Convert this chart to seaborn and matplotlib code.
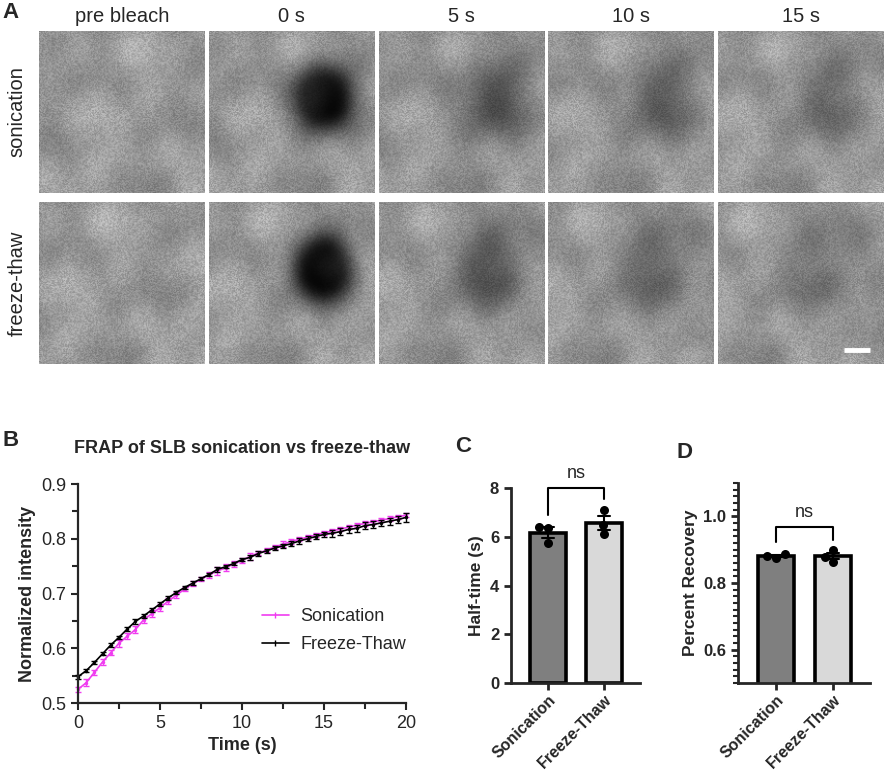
import numpy as np
import pandas as pd
import seaborn as sns
import matplotlib.pyplot as plt
from matplotlib.lines import Line2D

# ---- panel A: FRAP image series ----
time_labels = ["pre bleach", "0 s", "5 s", "10 s", "15 s"]
row_labels = ["sonication", "freeze-thaw"]
spot_depth = [0.0, 0.52, 0.26, 0.20, 0.15]
spot_radius = [0.2, 0.19, 0.20, 0.21, 0.22]
spot_sharpness = [3, 5, 3, 3, 3]

# ---- panel B: recovery curves ----
time_s = np.linspace(0, 20, 41)
sonication_mean = [0.525, 0.537, 0.556, 0.575, 0.592, 0.609, 0.622, 0.634, 0.652, 0.663,
                   0.674, 0.686, 0.697, 0.708, 0.718, 0.726, 0.734, 0.741, 0.747, 0.754,
                   0.760, 0.768, 0.774, 0.779, 0.785, 0.790, 0.795, 0.799, 0.803, 0.807,
                   0.811, 0.814, 0.818, 0.821, 0.825, 0.828, 0.831, 0.834, 0.837, 0.840, 0.843]
sonication_sem = [0.005, 0.006, 0.005, 0.005, 0.005, 0.006, 0.006, 0.007, 0.005, 0.006,
                  0.006, 0.005, 0.005, 0.004, 0.004, 0.004, 0.006, 0.007, 0.006, 0.005,
                  0.005, 0.006, 0.004, 0.004, 0.004, 0.005, 0.004, 0.004, 0.004, 0.004,
                  0.004, 0.004, 0.004, 0.004, 0.004, 0.004, 0.004, 0.004, 0.004, 0.004, 0.004]
freeze_mean = [0.548, 0.559, 0.574, 0.590, 0.606, 0.620, 0.635, 0.649, 0.659, 0.670,
               0.681, 0.692, 0.702, 0.711, 0.719, 0.727, 0.735, 0.744, 0.749, 0.755,
               0.762, 0.766, 0.773, 0.778, 0.783, 0.787, 0.791, 0.796, 0.800, 0.804,
               0.808, 0.810, 0.813, 0.817, 0.819, 0.824, 0.826, 0.829, 0.832, 0.835, 0.839]
freeze_sem = [0.004, 0.003, 0.003, 0.003, 0.004, 0.003, 0.004, 0.004, 0.003, 0.003,
              0.003, 0.003, 0.003, 0.003, 0.003, 0.003, 0.003, 0.004, 0.003, 0.003,
              0.003, 0.004, 0.004, 0.004, 0.004, 0.004, 0.005, 0.005, 0.005, 0.005,
              0.005, 0.006, 0.006, 0.007, 0.007, 0.007, 0.006, 0.006, 0.006, 0.006, 0.008]

# ---- panels C, D: per-replicate values ----
groups = ["Sonication", "Freeze-Thaw"]
halftime_sonication = [6.41, 6.35, 5.73]
halftime_freeze = [7.08, 6.47, 6.10]
recovery_sonication = [0.875, 0.887, 0.880]
recovery_freeze = [0.899, 0.879, 0.864]

PINK = "#f03cf0"
BAR_COLORS = ["#7f7f7f", "#d9d9d9"]

sns.set_theme(style="ticks")
plt.rcParams["font.family"] = ["Liberation Sans", "DejaVu Sans"]

# fixed soft components for the blotchy background of the micrographs
WAVES = [(1.3, 0.6, 0.7, 0.030), (-0.9, 1.8, 1.9, 0.026), (2.3, -0.7, 4.1, 0.022),
         (0.5, 2.9, 2.5, 0.020), (3.1, 2.2, 0.3, 0.014), (-3.7, 1.6, 5.0, 0.012)]


def tile_image(depth, radius, sharp, shift):
    n = 160
    yy, xx = np.mgrid[0:1:n * 1j, 0:1:n * 1j]
    img = np.full((n, n), 0.60)
    for kx, ky, ph, amp in WAVES:
        img += amp * np.cos(2 * np.pi * (kx * xx + ky * yy) + ph + shift * kx)
    r = np.sqrt(((xx - 0.69) / radius) ** 2 + ((yy - 0.41) / (1.12 * radius)) ** 2)
    img -= depth / (1 + r ** sharp)
    ii, jj = np.mgrid[0:n, 0:n]
    grain = np.sin(ii * 12.9898 + jj * 78.233 + shift) * 43758.5453
    grain = grain - np.floor(grain)
    img *= 1 + 0.28 * (grain - 0.5)
    return np.clip(img, 0, 1)


fig = plt.figure(figsize=(8.86, 7.70), dpi=100)
W, H = 886, 770


def px_axes(left, top, width, height):
    return fig.add_axes([left / W, 1 - (top + height) / H, width / W, height / H])


# panel A
tile_w, tile_h, gap = 166, 162, 3.75
row_tops = [31, 202]
for r, rlab in enumerate(row_labels):
    for c, tlab in enumerate(time_labels):
        left = 39 + c * (tile_w + gap)
        ax = px_axes(left, row_tops[r], tile_w, tile_h)
        ax.imshow(tile_image(spot_depth[c], spot_radius[c], spot_sharpness[c],
                             0.37 * c + 1.1 * r),
                  cmap="gray", vmin=0, vmax=1, aspect="auto", interpolation="bilinear")
        ax.set_axis_off()
        if r == 0:
            fig.text((left + tile_w / 2) / W, 1 - 17 / H, tlab, ha="center", va="center",
                     fontsize=14.5)
        if r == 1 and c == len(time_labels) - 1:
            ax.plot([121, 146], [146, 146], color="white", lw=3.5, solid_capstyle="butt")
    fig.text(17 / W, 1 - (row_tops[r] + tile_h / 2) / H, rlab, rotation=90,
             ha="center", va="center", fontsize=14.5)
fig.text(2 / W, 1 - 12 / H, "A", fontsize=16, fontweight="bold", va="center")

# panel B
axb = px_axes(78, 484, 328, 219)
for mean, sem, col in [(sonication_mean, sonication_sem, PINK),
                       (freeze_mean, freeze_sem, "black")]:
    sns.lineplot(x=time_s, y=mean, color=col, lw=1.2, marker="o", markersize=2.5,
                 markeredgewidth=0, ax=axb, clip_on=False)
    axb.errorbar(time_s, mean, yerr=sem, fmt="none", ecolor=col, elinewidth=1.0,
                 capsize=2.2, capthick=1.0, clip_on=False)
axb.set_xlim(0, 20)
axb.set_ylim(0.5, 0.9)
axb.set_xticks([0, 5, 10, 15, 20])
axb.set_xticks(np.linspace(0, 20, 9), minor=True)
axb.set_yticks([0.5, 0.6, 0.7, 0.8, 0.9])
axb.set_yticks(np.linspace(0.5, 0.9, 9), minor=True)
axb.set_yticklabels(["0.5", "0.6", "0.7", "0.8", "0.9"])
axb.tick_params(which="both", direction="out", width=1.5, labelsize=13, length=5)
axb.tick_params(which="minor", length=4)
for s in ["left", "bottom"]:
    axb.spines[s].set_linewidth(1.6)
sns.despine(ax=axb)
axb.set_xlabel("Time (s)", fontsize=13, fontweight="bold")
axb.set_ylabel("Normalized intensity", fontsize=13, fontweight="bold")
axb.set_title("FRAP of SLB sonication vs freeze-thaw", fontsize=13, fontweight="bold", pad=22)
handles = [Line2D([0], [0], color=PINK, lw=1.2, marker="|", markersize=4),
           Line2D([0], [0], color="black", lw=1.2, marker="|", markersize=4)]
axb.legend(handles, ["Sonication", "Freeze-Thaw"], loc="center right",
           bbox_to_anchor=(1.0, 0.33), borderaxespad=0, borderpad=0, frameon=False,
           fontsize=13, handlelength=1.45, handletextpad=0.65, labelspacing=0.62)
fig.text(2 / W, 1 - 440 / H, "B", fontsize=16, fontweight="bold", va="center")


def bar_panel(ax, son, fre, ylim, ylabel, bracket, ns_y):
    df = pd.DataFrame({"group": [groups[0]] * len(son) + [groups[1]] * len(fre),
                       "value": son + fre})
    sns.barplot(data=df, x="group", y="value", hue="group", palette=BAR_COLORS,
                legend=False, errorbar="se", capsize=0.22, width=0.64,
                edgecolor="black", linewidth=2.6,
                err_kws={"color": "black", "linewidth": 1.5}, ax=ax)
    sns.swarmplot(data=df, x="group", y="value", color="black", size=6.5, ax=ax)
    ax.set_xlim(-0.67, 1.65)
    ax.set_ylim(*ylim)
    ax.set_xlabel("")
    ax.set_ylabel(ylabel, fontsize=12.5, fontweight="bold")
    top, left_low, right_low = bracket
    ax.plot([0, 0, 1, 1], [left_low, top, top, right_low], color="black", lw=1.5,
            clip_on=False)
    ax.text(0.5, ns_y, "ns", ha="center", va="center", fontsize=13, clip_on=False)
    for s in ["left", "bottom"]:
        ax.spines[s].set_linewidth(2)
    sns.despine(ax=ax)
    ax.tick_params(which="both", direction="out", width=2, length=5, labelsize=12)
    ax.tick_params(which="minor", width=1.5, length=3.5)
    ax.tick_params(axis="x", pad=1.5)
    for lab in ax.get_yticklabels():
        lab.set_fontweight("bold")
    ax.set_xticks([0, 1])
    ax.set_xticklabels(groups, rotation=45, ha="right", va="top", rotation_mode="anchor",
                       fontweight="bold", fontsize=11.5)


# panel C
axc = px_axes(511, 488, 129, 195)
bar_panel(axc, halftime_sonication, halftime_freeze, (0, 8), "Half-time (s)",
          (8.0, 6.9, 7.55), 8.6)
axc.set_yticks([0, 2, 4, 6, 8])
axc.set_yticklabels(["0", "2", "4", "6", "8"], fontweight="bold")
fig.text(455 / W, 1 - 447 / H, "C", fontsize=16, fontweight="bold", va="center")

# panel D
axd = px_axes(738, 483, 132, 200)
bar_panel(axd, recovery_sonication, recovery_freeze, (0.5, 1.1), "Percent Recovery",
          (0.969, 0.922, 0.930), 1.013)
axd.set_yticks([0.6, 0.8, 1.0])
axd.set_yticklabels(["0.6", "0.8", "1.0"], fontweight="bold")
axd.set_yticks(np.linspace(0.5, 1.1, 31), minor=True)
fig.text(676 / W, 1 - 452 / H, "D", fontsize=16, fontweight="bold", va="center")

fig.savefig("out.png", dpi=100)
